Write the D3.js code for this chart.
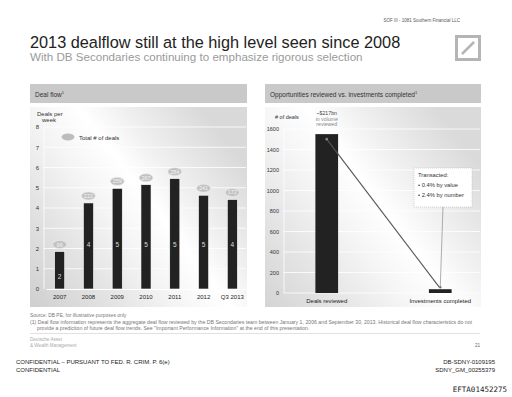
<!DOCTYPE html>
<html lang="en">
<head>
  <meta charset="UTF-8">
  <title>2013 dealflow</title>
  <script src="https://d3js.org/d3.v7.min.js"></script>
  <style>
    body, html { margin: 0; padding: 0; overflow: hidden; background: #fff; }
    svg { display: block; font-family: "Liberation Sans", Arial, sans-serif; }
  </style>
</head>
<body>
  <svg width="512" height="397"></svg>
  <script>
    // Deal flow data
    const years = ['2007', '2008', '2009', '2010', '2011', '2012', 'Q3 2013'];
    const dealsPerWeek = [1.85, 4.25, 4.97, 5.15, 5.45, 4.63, 4.42];
    const weekLabels = ['2', '4', '5', '5', '5', '5', '4'];
    const totalDeals = [96, 222, 259, 267, 284, 241, 172];
    const leftTicks = [0, 1, 2, 3, 4, 5, 6, 7, 8];

    // Opportunities reviewed vs completed
    const oppCats = ['Deals reviewed', 'Investments completed'];
    const oppValues = [1550, 37];
    const rightTicks = [0, 200, 400, 600, 800, 1000, 1200, 1400, 1600];

    const svg = d3.select('svg');
    const defs = svg.append('defs');

    // panel background gradients
    function panelGrad(id, stops) {
      const g = defs.append('linearGradient').attr('id', id)
        .attr('x1', '0%').attr('y1', '100%').attr('x2', '100%').attr('y2', '30%');
      stops.forEach(s => g.append('stop').attr('offset', s[0]).attr('stop-color', s[1]));
    }
    panelGrad('bgL', [['0%', '#cfcfcf'], ['25%', '#e2e2e2'], ['45%', '#f4f4f4'], ['62%', '#ffffff'], ['75%', '#f0f0f0'], ['100%', '#d9d9d9']]);
    panelGrad('bgR', [['0%', '#d4d4d4'], ['25%', '#e6e6e6'], ['45%', '#f6f6f6'], ['60%', '#ffffff'], ['75%', '#f0f0f0'], ['100%', '#dadada']]);

    // header text
    svg.append('text').attr('x', 460).attr('y', 22).attr('text-anchor', 'end')
      .attr('font-size', 4.5).attr('fill', '#555').text('SOF III - 1081 Southern Financial LLC');
    svg.append('text').attr('x', 30).attr('y', 48).attr('font-size', 16.3).attr('fill', '#222')
      .text('2013 dealflow still at the high level seen since 2008');
    svg.append('text').attr('x', 30).attr('y', 61).attr('font-size', 11.6).attr('fill', '#9a9a9a')
      .text('With DB Secondaries continuing to emphasize rigorous selection');

    // DB logo
    svg.append('rect').attr('x', 456.5).attr('y', 36.5).attr('width', 23).attr('height', 23)
      .attr('fill', 'none').attr('stroke', '#b5b5b5').attr('stroke-width', 3);
    svg.append('line').attr('x1', 462).attr('y1', 54).attr('x2', 474).attr('y2', 42)
      .attr('stroke', '#b5b5b5').attr('stroke-width', 2.5);

    // panel title bars
    const panels = [
      { x: 30, w: 217, title: 'Deal flow', grad: 'bgL' },
      { x: 265, w: 216, title: 'Opportunities reviewed vs. investments completed', grad: 'bgR' }
    ];
    panels.forEach(p => {
      svg.append('rect').attr('x', p.x).attr('y', 84).attr('width', p.w).attr('height', 19).attr('fill', '#c9c9c9');
      const t = svg.append('text').attr('x', p.x + 5).attr('y', 96.5).attr('font-size', 6.5).attr('fill', '#333').text(p.title);
      t.append('tspan').attr('font-size', 4).attr('dy', -2.5).text('1');
      svg.append('rect').attr('x', p.x).attr('y', 107).attr('width', p.w).attr('height', 200).attr('fill', 'url(#' + p.grad + ')');
    });

    // ---------- Left chart ----------
    const xL = d3.scaleBand().domain(years).range([46, 246]).paddingInner(0.65).paddingOuter(0.3);
    const yL = d3.scaleLinear().domain([0, 8]).range([289, 127]);

    const gL = svg.append('g');
    gL.append('g').selectAll('line').data(leftTicks.filter(d => d > 0)).join('line')
      .attr('x1', 44).attr('x2', 246).attr('y1', d => yL(d)).attr('y2', d => yL(d))
      .attr('stroke', '#fff').attr('stroke-width', 0.8);
    gL.append('line').attr('x1', 44).attr('x2', 44).attr('y1', yL(8)).attr('y2', yL(0))
      .attr('stroke', '#fff').attr('stroke-width', 0.8);
    const axL = gL.append('g').attr('transform', 'translate(44,0)')
      .call(d3.axisLeft(yL).tickValues(leftTicks).tickSize(0).tickPadding(5).tickFormat(d3.format('d')));
    axL.select('.domain').remove();
    axL.selectAll('text').attr('font-size', 6).attr('fill', '#333').attr('font-family', 'Liberation Sans, Arial, sans-serif');

    gL.append('text').attr('x', 37).attr('y', 116).attr('font-size', 6).attr('fill', '#333').text('Deals per');
    gL.append('text').attr('x', 42).attr('y', 122).attr('font-size', 6).attr('fill', '#333').text('week');

    gL.append('g').selectAll('rect').data(dealsPerWeek).join('rect')
      .attr('x', (d, i) => xL(years[i])).attr('width', xL.bandwidth())
      .attr('y', d => yL(d)).attr('height', d => yL(0) - yL(d))
      .attr('fill', '#222').attr('stroke', '#fff').attr('stroke-width', 0.6);

    gL.append('g').selectAll('text').data(weekLabels).join('text')
      .attr('x', (d, i) => xL(years[i]) + xL.bandwidth() / 2)
      .attr('y', (d, i) => i === 0 ? yL(0.5) : yL(2.05))
      .attr('text-anchor', 'middle').attr('font-size', 6.5).attr('fill', '#ddd').text(d => d);

    // total deals bubbles
    const bub = gL.append('g').selectAll('g').data(totalDeals).join('g')
      .attr('transform', (d, i) => `translate(${xL(years[i]) + xL.bandwidth() / 2},${yL(dealsPerWeek[i]) - 7})`);
    bub.append('ellipse').attr('rx', 7).attr('ry', 4).attr('fill', '#c2c2c2').attr('stroke', '#eee').attr('stroke-width', 0.6);
    bub.append('text').attr('text-anchor', 'middle').attr('y', 2).attr('font-size', 5.5).attr('fill', '#f2f2f2').text(d => d);

    // legend
    gL.append('ellipse').attr('cx', 68).attr('cy', 137).attr('rx', 6.5).attr('ry', 3.5).attr('fill', '#bdbdbd');
    gL.append('text').attr('x', 79).attr('y', 139.5).attr('font-size', 6).attr('fill', '#333').text('Total # of deals');

    const axLx = gL.append('g').attr('transform', `translate(0,${yL(0)})`)
      .call(d3.axisBottom(xL).tickSize(0).tickPadding(6));
    axLx.select('.domain').attr('stroke', '#fff');
    axLx.selectAll('text').attr('font-size', 6).attr('fill', '#222').attr('font-family', 'Liberation Sans, Arial, sans-serif');

    // ---------- Right chart ----------
    const xR = d3.scaleBand().domain(oppCats).range([287, 480]).paddingInner(0.8).paddingOuter(0.25);
    const yR = d3.scaleLinear().domain([0, 1600]).range([293, 129]);

    const gR = svg.append('g');
    gR.append('g').selectAll('line').data(rightTicks).join('line')
      .attr('x1', 284).attr('x2', 480).attr('y1', d => yR(d)).attr('y2', d => yR(d))
      .attr('stroke', '#fff').attr('stroke-width', 0.8);
    gR.append('line').attr('x1', 284).attr('x2', 284).attr('y1', yR(1600)).attr('y2', yR(0))
      .attr('stroke', '#fff').attr('stroke-width', 0.8);
    const axR = gR.append('g').attr('transform', 'translate(280,0)')
      .call(d3.axisLeft(yR).tickValues(rightTicks).tickSize(0).tickPadding(1).tickFormat(d3.format('d')));
    axR.select('.domain').remove();
    axR.selectAll('text').attr('font-size', 5.5).attr('fill', '#333').attr('font-family', 'Liberation Sans, Arial, sans-serif');

    gR.append('text').attr('x', 275).attr('y', 119).attr('font-size', 5.5).attr('fill', '#333').text('# of deals');

    gR.append('g').selectAll('rect').data(oppValues).join('rect')
      .attr('x', (d, i) => xR(oppCats[i])).attr('width', xR.bandwidth())
      .attr('y', d => yR(d)).attr('height', d => yR(0) - yR(d))
      .attr('fill', '#222');

    const axRx = gR.append('g').attr('transform', `translate(0,${yR(0)})`)
      .call(d3.axisBottom(xR).tickSize(0).tickPadding(6));
    axRx.select('.domain').remove();
    axRx.selectAll('text').attr('font-size', 6).attr('fill', '#222').attr('font-family', 'Liberation Sans, Arial, sans-serif');

    const cx0 = xR(oppCats[0]) + xR.bandwidth() / 2;
    const cx1 = xR(oppCats[1]) + xR.bandwidth() / 2;
    ['~$217bn', 'in volume', 'reviewed'].forEach((t, i) => {
      gR.append('text').attr('x', cx0).attr('y', 115 + i * 5.5).attr('text-anchor', 'middle')
        .attr('font-size', 5.2).attr('fill', i === 0 ? '#444' : '#888').text(t);
    });

    // connector lines
    gR.append('line').attr('x1', cx0).attr('y1', yR(oppValues[0]) + 5).attr('x2', cx1 - 1).attr('y2', yR(oppValues[1]) - 2)
      .attr('stroke', '#555').attr('stroke-width', 1.1);
    gR.append('circle').attr('cx', cx0).attr('cy', yR(oppValues[0]) + 5).attr('r', 1.3).attr('fill', '#888');
    gR.append('line').attr('x1', 443).attr('y1', 207).attr('x2', cx1).attr('y2', yR(oppValues[1]) - 2)
      .attr('stroke', '#999').attr('stroke-width', 0.8);
    gR.append('circle').attr('cx', cx1).attr('cy', yR(oppValues[1]) - 2).attr('r', 1.2).attr('fill', '#777');

    // callout box
    gR.append('rect').attr('x', 414).attr('y', 168).attr('width', 58).attr('height', 39)
      .attr('fill', '#fff').attr('stroke', '#aaa').attr('stroke-width', 0.5).attr('stroke-dasharray', '1,1');
    ['Transacted:', '• 0.4% by value', '• 2.4% by number'].forEach((t, i) => {
      gR.append('text').attr('x', 418).attr('y', 177 + i * 10).attr('font-size', 5.8).attr('fill', '#333').text(t);
    });

    // ---------- Footer ----------
    const foot = svg.append('g').attr('fill', '#777');
    foot.append('text').attr('x', 30).attr('y', 317).attr('font-size', 4.9).text('Source: DB PE, for illustrative purposes only');
    foot.append('text').attr('x', 30).attr('y', 324).attr('font-size', 5.2)
      .text('(1)  Deal flow information represents the aggregate deal flow reviewed by the DB Secondaries team between January 1, 2006 and September 30, 2013. Historical deal flow characteristics do not');
    foot.append('text').attr('x', 37).attr('y', 329.5).attr('font-size', 5.2)
      .text('provide a prediction of future deal flow trends. See "Important Performance Information" at the end of this presentation.');
    svg.append('line').attr('x1', 30).attr('x2', 480).attr('y1', 333.5).attr('y2', 333.5).attr('stroke', '#ccc').attr('stroke-width', 0.6);
    foot.append('text').attr('x', 30).attr('y', 341).attr('font-size', 4.6).attr('fill', '#aaa').text('Deutsche Asset');
    foot.append('text').attr('x', 30).attr('y', 347).attr('font-size', 4.6).attr('fill', '#aaa').text('& Wealth Management');
    foot.append('text').attr('x', 480).attr('y', 347).attr('text-anchor', 'end').attr('font-size', 4.6).attr('fill', '#666').text('21');

    const conf = svg.append('g').attr('fill', '#222').attr('font-size', 6);
    conf.append('text').attr('x', 16).attr('y', 364).text('CONFIDENTIAL – PURSUANT TO FED. R. CRIM. P. 6(e)');
    conf.append('text').attr('x', 16).attr('y', 372).text('CONFIDENTIAL');
    conf.append('text').attr('x', 495).attr('y', 364).attr('text-anchor', 'end').text('DB-SDNY-0109195');
    conf.append('text').attr('x', 495).attr('y', 372).attr('text-anchor', 'end').text('SDNY_GM_00255379');
    svg.append('text').attr('x', 507).attr('y', 392).attr('text-anchor', 'end')
      .attr('font-family', 'DejaVu Sans Mono, monospace').attr('font-size', 7.5).attr('fill', '#222').text('EFTA01452275');
  </script>
</body>
</html>
